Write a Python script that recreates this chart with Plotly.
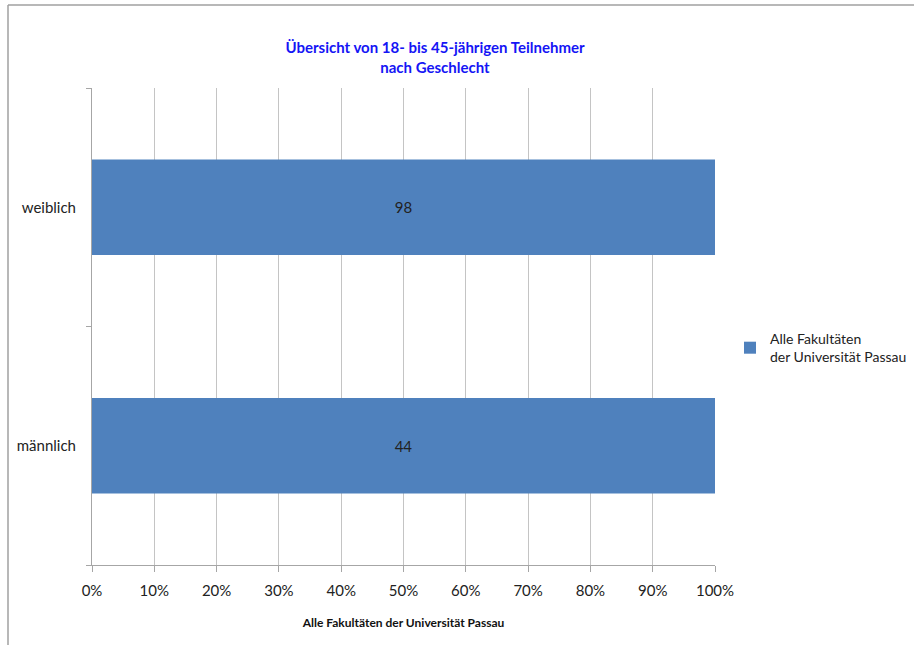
import plotly.graph_objects as go

categories = ["männlich", "weiblich"]
values = [44, 98]
series_name = "Alle Fakultäten<br>der Universität Passau"
title_text = "Übersicht von 18- bis 45-jährigen Teilnehmer<br>nach Geschlecht"
x_title = "Alle Fakultäten der Universität Passau"

FONT = "Lato, Open Sans, sans-serif"

W, H = 914, 645
L, R, T, B = 92, 914 - 715, 88, 645 - 565
pw = W - L - R
ph = H - T - B

fig = go.Figure()
fig.add_trace(go.Bar(
    y=categories, x=values, orientation="h", name=series_name,
    marker=dict(color="#4F81BD", line=dict(width=0)),
    text=[str(v) for v in values], textposition="inside",
    insidetextanchor="middle",
    textfont=dict(family=FONT, size=15, color="#222222"),
    hoverinfo="skip",
))

def px_x(px):
    return (px - L) / pw

def px_y(py):
    return 1 - (py - T) / ph

shapes = [
    dict(type="line", xref="paper", yref="paper",
         x0=px_x(8), x1=px_x(8), y0=px_y(5), y1=px_y(645),
         line=dict(color="#A0A0A0", width=1.5)),
    dict(type="line", xref="paper", yref="paper",
         x0=px_x(8), x1=px_x(914), y0=px_y(5), y1=px_y(5),
         line=dict(color="#A0A0A0", width=1.5)),
]

fig.update_layout(
    width=W, height=H,
    margin=dict(l=L, r=R, t=T, b=B, autoexpand=False),
    paper_bgcolor="white", plot_bgcolor="white",
    barmode="stack", barnorm="percent", bargap=0.6,
    showlegend=True,
    font=dict(family=FONT, size=15, color="#222222"),
    title=dict(text="<b>" + title_text + "</b>", x=435 / W, xanchor="center",
               y=1 - 53 / H, yanchor="middle",
               font=dict(family=FONT, size=15, color="#1515F5")),
    legend=dict(x=px_x(730), xanchor="left", y=px_y(348), yanchor="middle",
                font=dict(family=FONT, size=14, color="#222222"),
                itemwidth=30, tracegroupgap=0),
    xaxis=dict(range=[0, 100], dtick=10, ticksuffix="%", showgrid=True,
               gridcolor="#C4C4C4", gridwidth=1, showline=True, linecolor="#A6A6A6",
               ticks="outside", ticklen=6, tickcolor="#A6A6A6",
               tickfont=dict(family=FONT, size=15, color="#222222"),
               zeroline=False, fixedrange=True, ticklabelstandoff=6,
               title=dict(text="<b>" + x_title + "</b>", standoff=20,
                          font=dict(family=FONT, size=12, color="#111111"))),
    yaxis=dict(categoryorder="array", categoryarray=categories,
               range=[-0.5, 1.5], showgrid=False, showline=True, linecolor="#A6A6A6",
               ticks="outside", tickson="boundaries", ticklen=5, tickcolor="#A6A6A6",
               tickfont=dict(family=FONT, size=15, color="#222222"),
               zeroline=False, fixedrange=True, ticklabelstandoff=12),
    shapes=shapes,
)

fig.write_html("out.html", config={"displayModeBar": False},
               post_script="document.body.style.margin='0';")
